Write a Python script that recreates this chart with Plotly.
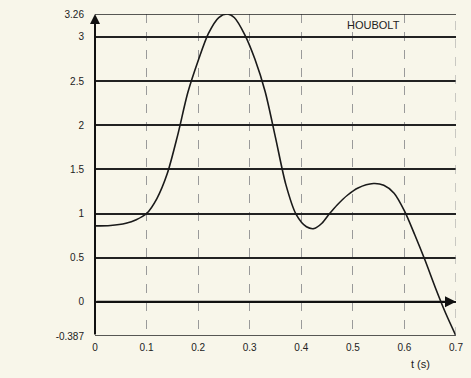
import plotly.graph_objects as go

t_vals = [0.0, 0.03, 0.06, 0.08, 0.1, 0.12, 0.14, 0.16, 0.18, 0.2, 0.22, 0.24, 0.257,
          0.27, 0.29, 0.31, 0.33, 0.35, 0.37, 0.39, 0.41, 0.425, 0.44, 0.455, 0.47,
          0.49, 0.51, 0.54, 0.56, 0.58, 0.6, 0.62, 0.64, 0.66, 0.68, 0.7]
d_vals = [0.86, 0.865, 0.89, 0.93, 1.0, 1.17, 1.45, 1.88, 2.37, 2.73, 3.04, 3.22, 3.26,
          3.22, 3.03, 2.75, 2.38, 1.86, 1.33, 0.99, 0.85, 0.83, 0.89, 1.0, 1.1,
          1.21, 1.29, 1.34, 1.32, 1.23, 1.03, 0.76, 0.47, 0.16, -0.13, -0.387]

x_ticks = [0, 0.1, 0.2, 0.3, 0.4, 0.5, 0.6, 0.7]
x_labels = ["0", "0.1", "0.2", "0.3", "0.4", "0.5", "0.6", "0.7"]
y_ticks = [-0.387, 0, 0.5, 1, 1.5, 2, 2.5, 3, 3.26]
y_labels = ["-0.387", "0", "0.5", "1", "1.5", "2", "2.5", "3", "3.26"]

bg = "#f8f6ea"
font = dict(family="Liberation Sans, Arial, sans-serif", size=10, color="#222")

fig = go.Figure()
fig.add_trace(go.Scatter(x=t_vals, y=d_vals, mode="lines",
                         line=dict(color="#1a1a1a", width=1.6, shape="spline", smoothing=0.8),
                         showlegend=False, hoverinfo="skip"))

fig.update_layout(
    width=471, height=378,
    margin=dict(l=95, r=8, t=14, b=42),
    paper_bgcolor=bg, plot_bgcolor=bg,
    font=font,
    xaxis=dict(range=[0, 0.7], tickvals=x_ticks, ticktext=x_labels,
               showgrid=True, gridcolor="#9a9a9a", griddash="dash", gridwidth=1,
               zeroline=False, showline=False, ticks="", ticklabelstandoff=4),
    yaxis=dict(range=[-0.387, 3.26], tickvals=y_ticks, ticktext=y_labels,
               showgrid=True, gridcolor="#222", gridwidth=1.5,
               zeroline=False, showline=False, ticks="", ticklabelstandoff=10),
)

# top and bottom border lines
for yv in [y_ticks[0], y_ticks[-1]]:
    fig.add_shape(type="line", x0=0, x1=0.7, y0=yv, y1=yv, xref="x", yref="y",
                  line=dict(color="#222", width=1.5))
# right dashed border
fig.add_shape(type="line", x0=0.7, x1=0.7, y0=-0.387, y1=3.26, xref="x", yref="y",
              line=dict(color="#9a9a9a", width=1, dash="dash"))

# y axis arrow
fig.add_annotation(x=0, y=3.26, ax=0, ay=-0.387, xref="x", yref="y", axref="x", ayref="y",
                   showarrow=True, arrowhead=2, arrowsize=1, arrowwidth=2, arrowcolor="#111", text="")
# zero line arrow
fig.add_annotation(x=0.7, y=0, ax=0, ay=0, xref="x", yref="y", axref="x", ayref="y",
                   showarrow=True, arrowhead=2, arrowsize=1, arrowwidth=2.2, arrowcolor="#111", text="")

fig.add_annotation(x=-0.11, y=3.26, xref="x", yref="y", text="d", showarrow=False,
                   font=dict(family="Liberation Sans", size=11, color="#222"))
fig.add_annotation(x=-0.11, y=3.0, xref="x", yref="y", text="(m.10<sup>-2</sup>)", showarrow=False,
                   font=dict(family="Liberation Sans", size=11, color="#222"))
fig.add_annotation(x=0.54, y=3.13, xref="x", yref="y", text="HOUBOLT", showarrow=False,
                   font=dict(family="Liberation Sans", size=11, color="#222"))
fig.add_annotation(x=0.632, y=-0.387, xref="x", yref="y", yshift=-28, text="t (s)", showarrow=False,
                   font=dict(family="Liberation Sans", size=11, color="#222"))

fig.write_html("out.html")
